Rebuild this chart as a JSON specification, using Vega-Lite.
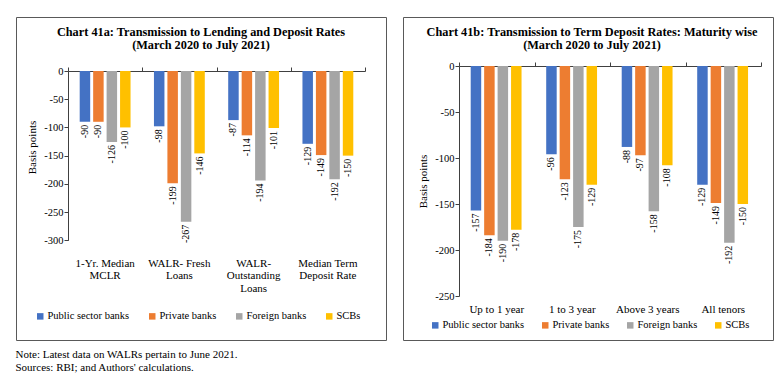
{
  "$schema": "https://vega.github.io/schema/vega-lite/v6.json",
  "background": "white",
  "padding": {"left": 15, "top": 16, "right": 0, "bottom": 0},
  "title": {
    "text": ["Note: Latest data on WALRs pertain to June 2021.", "Sources: RBI; and Authors' calculations."],
    "orient": "bottom", "anchor": "start", "offset": 8,
    "font": "Liberation Serif", "fontSize": 11, "fontWeight": "normal", "color": "#000", "lineHeight": 13
  },
  "spacing": 15,
  "resolve": {"scale": {"color": "independent"}, "legend": {"color": "independent"}},
  "config": {
    "view": {"stroke": "#595959", "strokeWidth": 1},
    "font": "Liberation Serif",
    "axis": {"labelFont": "Liberation Serif", "titleFont": "Liberation Serif", "labelColor": "#000", "titleColor": "#000", "domainColor": "#404040", "tickColor": "#404040", "grid": false},
    "legend": {"labelFont": "Liberation Serif", "labelFontSize": 10.5, "labelColor": "#000"}
  },
  "hconcat": [
    {
      "width": 370, "height": 323,
      "title": {
        "text": ["Chart 41a: Transmission to Lending and Deposit Rates", "(March 2020 to July 2021)"],
        "orient": "top", "anchor": "middle", "frame": "group", "offset": -34,
        "font": "Liberation Serif", "fontSize": 12.3, "fontWeight": "bold", "color": "#000", "lineHeight": 13
      },
      "data": {"values": [
        {"cat": "1-Yr. Median MCLR", "bank": "Public sector banks", "value": -90},
        {"cat": "1-Yr. Median MCLR", "bank": "Private banks", "value": -90},
        {"cat": "1-Yr. Median MCLR", "bank": "Foreign banks", "value": -126},
        {"cat": "1-Yr. Median MCLR", "bank": "SCBs", "value": -100},
        {"cat": "WALR- Fresh Loans", "bank": "Public sector banks", "value": -98},
        {"cat": "WALR- Fresh Loans", "bank": "Private banks", "value": -199},
        {"cat": "WALR- Fresh Loans", "bank": "Foreign banks", "value": -267},
        {"cat": "WALR- Fresh Loans", "bank": "SCBs", "value": -146},
        {"cat": "WALR- Outstanding Loans", "bank": "Public sector banks", "value": -87},
        {"cat": "WALR- Outstanding Loans", "bank": "Private banks", "value": -114},
        {"cat": "WALR- Outstanding Loans", "bank": "Foreign banks", "value": -194},
        {"cat": "WALR- Outstanding Loans", "bank": "SCBs", "value": -101},
        {"cat": "Median Term Deposit Rate", "bank": "Public sector banks", "value": -129},
        {"cat": "Median Term Deposit Rate", "bank": "Private banks", "value": -149},
        {"cat": "Median Term Deposit Rate", "bank": "Foreign banks", "value": -192},
        {"cat": "Median Term Deposit Rate", "bank": "SCBs", "value": -150}
      ]},
      "resolve": {"axis": {"x": "independent", "y": "independent"}},
      "layer": [
        {
          "mark": {"type": "bar"},
          "encoding": {
            "x": {"field": "cat", "type": "nominal", "sort": null,
              "scale": {"range": [52, 349], "paddingInner": 0, "paddingOuter": 0},
              "axis": {"orient": "top", "offset": -54, "labels": false, "ticks": true, "tickSize": 4, "tickBand": "extent", "domain": true, "title": null}},
            "xOffset": {"field": "bank", "type": "nominal", "sort": ["Public sector banks", "Private banks", "Foreign banks", "SCBs"],
              "scale": {"paddingInner": 0.22, "paddingOuter": 0.87}},
            "y": {"field": "value", "type": "quantitative",
              "scale": {"domain": [-300, 0], "range": [223.3, 54], "nice": false, "zero": false},
              "axis": {"orient": "left", "offset": -52, "values": [0, -50, -100, -150, -200, -250, -300], "labelExpr": "toString(datum.value)",
                "tickSize": 4, "labelPadding": 1, "labelFontSize": 10.5, "title": "Basis points", "titlePadding": 6, "titleFontSize": 11, "titleFontWeight": "normal", "titleY": 130}},
            "color": {"field": "bank", "type": "nominal",
              "scale": {"domain": ["Public sector banks", "Private banks", "Foreign banks", "SCBs"], "range": ["#4472C4", "#ED7D31", "#A5A5A5", "#FFC000"]},
              "legend": {"orient": "none", "legendX": 19, "legendY": 294, "direction": "horizontal", "title": null, "symbolType": "square", "symbolSize": 42, "symbolStrokeWidth": 0,
                "labelFont": "Liberation Serif", "labelFontSize": 10.5, "labelColor": "#000", "columnPadding": 17, "labelOffset": 2, "padding": 0}}
          }
        },
        {
          "mark": {"type": "text", "angle": 270, "align": "right", "baseline": "middle", "dx": -3, "font": "Liberation Serif", "fontSize": 10, "color": "#000"},
          "encoding": {
            "x": {"field": "cat", "type": "nominal", "sort": null,
              "scale": {"range": [52, 349], "paddingInner": 0, "paddingOuter": 0},
              "axis": {"orient": "bottom", "offset": -83, "domain": false, "ticks": false, "tickSize": 0, "labelPadding": 0, "labelAngle": 0, "labelFontSize": 11, "labelLineHeight": 12.5, "labelOverlap": false, "labelLimit": 0, "title": null,
                "labelExpr": "datum.value == '1-Yr. Median MCLR' ? ['1-Yr. Median', 'MCLR'] : datum.value == 'WALR- Fresh Loans' ? ['WALR- Fresh', 'Loans'] : datum.value == 'WALR- Outstanding Loans' ? ['WALR-', 'Outstanding', 'Loans'] : ['Median Term', 'Deposit Rate']"}},
            "xOffset": {"field": "bank", "type": "nominal", "sort": ["Public sector banks", "Private banks", "Foreign banks", "SCBs"],
              "scale": {"paddingInner": 0.22, "paddingOuter": 0.87}},
            "y": {"field": "value", "type": "quantitative",
              "scale": {"domain": [-300, 0], "range": [223.3, 54], "nice": false, "zero": false}, "axis": null},
            "text": {"field": "value", "type": "nominal"}
          }
        }
      ]
    },
    {
      "width": 370, "height": 323,
      "title": {
        "text": ["Chart 41b: Transmission to Term Deposit Rates: Maturity wise", "(March 2020 to July 2021)"],
        "orient": "top", "anchor": "middle", "frame": "group", "offset": -34, "dx": 4,
        "font": "Liberation Serif", "fontSize": 12.3, "fontWeight": "bold", "color": "#000", "lineHeight": 13
      },
      "data": {"values": [
        {"cat": "Up to 1 year", "bank": "Public sector banks", "value": -157},
        {"cat": "Up to 1 year", "bank": "Private banks", "value": -184},
        {"cat": "Up to 1 year", "bank": "Foreign banks", "value": -190},
        {"cat": "Up to 1 year", "bank": "SCBs", "value": -178},
        {"cat": "1 to 3 year", "bank": "Public sector banks", "value": -96},
        {"cat": "1 to 3 year", "bank": "Private banks", "value": -123},
        {"cat": "1 to 3 year", "bank": "Foreign banks", "value": -175},
        {"cat": "1 to 3 year", "bank": "SCBs", "value": -129},
        {"cat": "Above 3 years", "bank": "Public sector banks", "value": -88},
        {"cat": "Above 3 years", "bank": "Private banks", "value": -97},
        {"cat": "Above 3 years", "bank": "Foreign banks", "value": -158},
        {"cat": "Above 3 years", "bank": "SCBs", "value": -108},
        {"cat": "All tenors", "bank": "Public sector banks", "value": -129},
        {"cat": "All tenors", "bank": "Private banks", "value": -149},
        {"cat": "All tenors", "bank": "Foreign banks", "value": -192},
        {"cat": "All tenors", "bank": "SCBs", "value": -150}
      ]},
      "resolve": {"axis": {"x": "independent", "y": "independent"}},
      "layer": [
        {
          "mark": {"type": "bar"},
          "encoding": {
            "x": {"field": "cat", "type": "nominal", "sort": null,
              "scale": {"range": [56, 358], "paddingInner": 0, "paddingOuter": 0},
              "axis": {"orient": "top", "offset": -49, "labels": false, "ticks": true, "tickSize": 4, "tickBand": "extent", "domain": true, "title": null}},
            "xOffset": {"field": "bank", "type": "nominal", "sort": ["Public sector banks", "Private banks", "Foreign banks", "SCBs"],
              "scale": {"paddingInner": 0.22, "paddingOuter": 0.95}},
            "y": {"field": "value", "type": "quantitative",
              "scale": {"domain": [-250, 0], "range": [279, 49], "nice": false, "zero": false},
              "axis": {"orient": "left", "offset": -56, "values": [0, -50, -100, -150, -200, -250], "labelExpr": "toString(datum.value)",
                "tickSize": 4, "labelPadding": 1, "labelFontSize": 10.5, "title": "Basis points", "titlePadding": 6, "titleFontSize": 11, "titleFontWeight": "normal"}},
            "color": {"field": "bank", "type": "nominal",
              "scale": {"domain": ["Public sector banks", "Private banks", "Foreign banks", "SCBs"], "range": ["#4472C4", "#ED7D31", "#A5A5A5", "#FFC000"]},
              "legend": {"orient": "none", "legendX": 27, "legendY": 303, "direction": "horizontal", "title": null, "symbolType": "square", "symbolSize": 42, "symbolStrokeWidth": 0,
                "labelFont": "Liberation Serif", "labelFontSize": 10.5, "labelColor": "#000", "columnPadding": 15, "labelOffset": 2, "padding": 0}}
          }
        },
        {
          "mark": {"type": "text", "angle": 270, "align": "right", "baseline": "middle", "dx": -3, "font": "Liberation Serif", "fontSize": 10, "color": "#000"},
          "encoding": {
            "x": {"field": "cat", "type": "nominal", "sort": null,
              "scale": {"range": [56, 358], "paddingInner": 0, "paddingOuter": 0},
              "axis": {"orient": "bottom", "offset": -37, "domain": false, "ticks": false, "tickSize": 0, "labelPadding": 0, "labelAngle": 0, "labelFontSize": 11, "labelOverlap": false, "labelLimit": 0, "title": null}},
            "xOffset": {"field": "bank", "type": "nominal", "sort": ["Public sector banks", "Private banks", "Foreign banks", "SCBs"],
              "scale": {"paddingInner": 0.22, "paddingOuter": 0.95}},
            "y": {"field": "value", "type": "quantitative",
              "scale": {"domain": [-250, 0], "range": [279, 49], "nice": false, "zero": false}, "axis": null},
            "text": {"field": "value", "type": "nominal"}
          }
        }
      ]
    }
  ]
}
